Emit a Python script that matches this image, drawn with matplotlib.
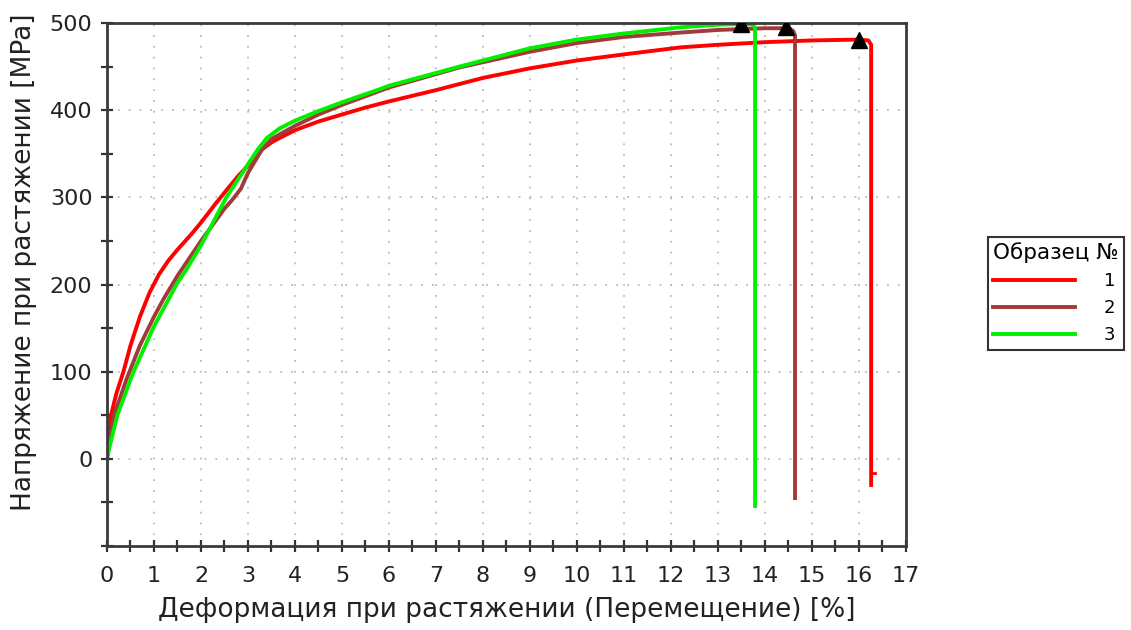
import matplotlib.pyplot as plt
from matplotlib.ticker import MultipleLocator

# strain [%] / stress [MPa] curves for each specimen
strain_1 = [0, 0.03, 0.085, 0.2, 0.35, 0.5, 0.7, 0.9, 1.1, 1.3, 1.5, 1.8, 2.0, 2.3, 2.6, 2.8, 3.1, 3.3, 3.5, 3.67, 4.0, 4.5, 5.0, 5.5, 6.0, 7.0, 8.0, 9.0, 10.0, 11.0, 12.2, 13.0, 14.0, 15.0, 16.0, 16.2, 16.26, 16.26]
stress_1 = [0, 22, 50, 75, 100, 130, 163, 190, 211, 227, 240, 258, 271, 292, 312, 325, 342, 355, 363, 368, 377, 387, 395, 403, 410, 423, 437, 448, 457, 464, 472, 475, 478, 480, 481, 480, 475, -30]
strain_1_tail = [16.26, 16.34]
stress_1_tail = [-16, -16]

strain_2 = [0, 0.05, 0.15, 0.42, 0.7, 1.0, 1.2, 1.5, 2.0, 2.5, 2.68, 2.85, 3.0, 3.3, 3.5, 3.8, 4.0, 4.5, 5.0, 6.0, 7.5, 9.0, 10.0, 11.0, 12.2, 13.0, 14.0, 14.5, 14.6, 14.64, 14.64]
stress_2 = [0, 20, 50, 92, 130, 163, 183, 210, 250, 287, 298, 310, 328, 355, 367, 376, 382, 395, 406, 426, 449, 467, 477, 484, 489, 492, 494, 494, 491, 486, -45]

strain_3 = [0, 0.06, 0.22, 0.55, 0.8, 1.0, 1.5, 1.69, 2.0, 2.54, 3.0, 3.21, 3.4, 3.67, 4.0, 4.5, 5.0, 5.8, 6.0, 7.5, 9.0, 10.0, 11.0, 12.2, 13.0, 13.5, 13.75, 13.79, 13.79]
stress_3 = [0, 15, 50, 98, 128, 152, 202, 217, 245, 300, 338, 355, 368, 379, 388, 399, 409, 424, 428, 450, 471, 481, 488, 495, 498, 499, 498, 494, -54]

# maximum stress points
peak_strain = [16.0, 14.45, 13.5]
peak_stress = [481, 495, 499]

labels = ['1', '2', '3']
colors = ['#ff0000', '#a33a3a', '#00f000']

fig = plt.figure(figsize=(11.31, 6.30), dpi=100)
ax = fig.add_axes([0.0946, 0.1333, 0.7064, 0.8302])

ax.plot(strain_1, stress_1, color=colors[0], lw=2.8, label=labels[0], solid_joinstyle='round')
ax.plot(strain_1_tail, stress_1_tail, color=colors[0], lw=2)
ax.plot(strain_2, stress_2, color=colors[1], lw=2.8, label=labels[1], solid_joinstyle='round')
ax.plot(strain_3, stress_3, color=colors[2], lw=2.8, label=labels[2], solid_joinstyle='round')
ax.plot(peak_strain, peak_stress, '^', color='black', ms=12, ls='none', zorder=5)

ax.set_xlim(0, 17)
ax.set_ylim(-100, 500)
ax.xaxis.set_major_locator(MultipleLocator(1))
ax.xaxis.set_minor_locator(MultipleLocator(0.5))
ax.yaxis.set_major_locator(MultipleLocator(100))
ax.yaxis.set_minor_locator(MultipleLocator(50))
ax.set_yticks([0, 100, 200, 300, 400, 500])

ax.grid(True, which='major', color='#bdbdaa', linestyle=(0, (1, 5)), linewidth=1.3)
ax.tick_params(which='both', direction='inout', length=9, width=1.6, color='#333333',
               labelsize=16, labelcolor='#222222')
ax.tick_params(axis='x', pad=10)
ax.tick_params(axis='y', pad=6)
for s in ax.spines.values():
    s.set_color('#3a3a3a')
    s.set_linewidth(2)

ax.set_xlabel('Деформация при растяжении (Перемещение) [%]', fontsize=19, color='#222222', labelpad=8)
ax.set_ylabel('Напряжение при растяжении [MPa]', fontsize=19, color='#222222')
ax.yaxis.set_label_coords(-0.088, 0.543)

leg = fig.legend(loc='upper left', bbox_to_anchor=(0.8736, 0.6238), borderaxespad=0,
                 title='Образец №', fontsize=13, title_fontsize=15.5,
                 handlelength=4.5, handletextpad=1.6, labelspacing=0.5,
                 alignment='left', fancybox=False, borderpad=0.3,
                 edgecolor='#333333', framealpha=1)
leg.get_frame().set_linewidth(1.5)

fig.savefig('out.png', dpi=100)
